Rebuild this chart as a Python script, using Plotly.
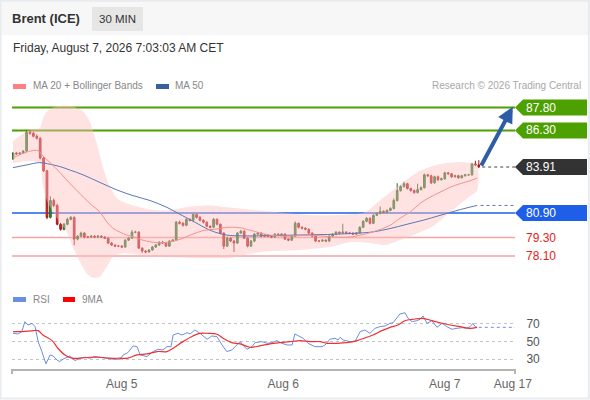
import plotly.graph_objects as go

W, H = 590, 400
FONT = "Liberation Sans, Arial, sans-serif"

# candles (30 min bars), open = previous close
first_open = 84.44
closes = [84.82, 84.76, 84.82, 84.95, 86.18, 86.12, 85.92, 85.79, 84.50, 83.66,
          80.62, 81.72, 81.40, 80.17, 79.84, 80.17, 80.49, 80.62, 79.20, 79.39,
          79.59, 79.33, 79.33, 79.39, 79.33, 79.39, 79.33, 79.26, 78.94, 78.81,
          78.74, 78.74, 78.68, 79.13, 79.26, 79.65, 79.65, 78.61, 78.42, 78.36,
          78.49, 78.68, 78.81, 79.00, 78.94, 78.74, 79.07, 79.13, 80.30, 80.23,
          80.10, 80.49, 80.43, 80.81, 80.62, 80.43, 80.30, 80.04, 79.97, 80.49,
          80.17, 79.59, 78.74, 79.26, 79.07, 78.94, 79.59, 79.71, 79.26, 78.74,
          79.07, 79.52, 79.59, 79.39, 79.46, 79.39, 79.33, 79.52, 79.46, 79.52,
          79.20, 79.13, 79.39, 80.23, 79.97, 79.91, 79.84, 79.59, 79.39, 79.07,
          79.07, 79.13, 79.07, 79.39, 79.52, 79.65, 79.59, 79.65, 79.59, 79.59,
          79.52, 79.59, 79.97, 80.36, 80.56, 80.23, 80.75, 80.88, 81.01, 80.94,
          81.07, 81.20, 81.72, 82.37, 82.63, 82.82, 82.50, 82.37, 82.24, 82.43,
          82.56, 83.40, 83.34, 82.88, 83.27, 83.08, 83.14, 83.53, 83.47, 83.27,
          83.34, 83.21, 83.34, 83.40, 83.40, 84.11, 84.05, 83.91]
highs = [84.88, 84.90, 84.88, 85.02, 86.30, 86.35, 86.20, 86.05, 85.85, 84.58,
         83.72, 82.00, 81.85, 81.50, 80.25, 80.25, 80.60, 80.70, 80.68, 79.45,
         79.68, 79.65, 79.40, 79.46, 79.45, 79.46, 79.44, 79.38, 79.32, 79.00,
         78.86, 78.80, 78.80, 79.20, 79.32, 79.78, 79.74, 79.72, 78.66, 78.48,
         78.55, 78.74, 78.88, 79.06, 79.08, 79.00, 79.14, 79.20, 80.38, 80.40,
         80.30, 80.56, 80.55, 80.88, 80.86, 80.70, 80.50, 80.36, 80.10, 80.58,
         80.55, 80.22, 79.64, 79.35, 79.32, 79.15, 79.66, 79.80, 79.78, 79.32,
         79.14, 79.60, 79.66, 79.64, 79.52, 79.52, 79.44, 79.58, 79.58, 79.58,
         79.58, 79.26, 79.45, 80.36, 80.28, 80.04, 79.98, 79.90, 79.64, 79.44,
         79.14, 79.20, 79.18, 79.46, 79.58, 79.72, 79.70, 80.20, 79.72, 79.66,
         79.64, 79.66, 80.04, 80.44, 80.64, 80.62, 80.82, 80.95, 81.33, 81.08,
         81.14, 81.28, 81.86, 82.85, 82.72, 82.95, 82.88, 82.56, 82.44, 82.82,
         82.64, 83.48, 83.46, 83.40, 83.34, 83.35, 83.22, 83.60, 83.58, 83.52,
         83.40, 83.40, 83.40, 83.46, 83.46, 84.18, 84.32, 84.36]
lows = [84.38, 84.70, 84.70, 84.78, 84.90, 86.02, 85.85, 85.70, 84.42, 83.58,
        80.50, 80.55, 81.30, 80.10, 79.75, 79.78, 80.10, 80.42, 78.80, 79.12,
        79.32, 79.25, 79.26, 79.28, 79.26, 79.27, 79.27, 79.20, 78.88, 78.75,
        78.68, 78.68, 78.62, 78.64, 79.08, 79.22, 79.58, 78.55, 78.30, 78.28,
        78.32, 78.44, 78.62, 78.76, 78.88, 78.68, 78.70, 79.02, 79.08, 80.16,
        80.02, 80.04, 80.36, 80.38, 80.55, 80.36, 80.22, 79.98, 79.90, 79.92,
        80.10, 79.52, 78.55, 78.68, 79.00, 78.36, 78.88, 79.54, 79.20, 78.66,
        78.68, 79.00, 79.46, 79.32, 79.34, 79.32, 79.26, 79.28, 79.40, 79.40,
        79.14, 79.06, 79.08, 79.34, 79.90, 79.84, 79.78, 79.52, 79.32, 79.00,
        79.00, 79.02, 79.00, 79.02, 79.34, 79.46, 79.52, 79.54, 79.52, 79.52,
        79.46, 79.46, 79.54, 79.92, 80.30, 80.16, 80.18, 80.70, 80.82, 80.88,
        80.88, 81.02, 81.14, 81.66, 82.30, 82.56, 82.44, 82.30, 82.16, 82.18,
        82.38, 82.50, 83.26, 82.80, 82.82, 83.00, 83.02, 83.08, 83.40, 83.20,
        83.22, 83.14, 83.16, 83.28, 83.34, 83.34, 83.98, 83.86]
opens = [first_open] + closes[:-1]
bars = list(range(len(closes)))

# indicators (bar index, value)
ma20_x = [0, 7.1, 8.8, 10.9, 13.8, 16.8, 19.7, 22.6, 25.6, 27.6, 29.4, 31.5, 33.5, 35.3,
          37.4, 40.3, 43.2, 46.2, 49.1, 52.1, 56.5, 59.4, 63.2, 66.8, 69.7, 75.6, 81.5,
          87.4, 93.2, 99.1, 102.1, 105.9, 110.9, 113.8, 116.8, 119.7, 122.6, 125.6,
          128.5, 131.5, 134.4, 136.5]
ma20_y = [84.52, 85.00, 84.63, 84.20, 83.55, 82.82, 82.17, 81.53, 80.96, 80.32, 79.91,
          79.65, 79.46, 79.35, 79.18, 79.02, 78.96, 79.02, 79.18, 79.46, 79.78, 79.84,
          79.97, 79.94, 79.78, 79.46, 79.39, 79.46, 79.35, 79.33, 79.46, 79.67, 80.10,
          80.56, 80.96, 81.53, 81.93, 82.26, 82.58, 82.82, 83.01, 83.19]
ma50_x = [0, 4.1, 7.9, 10.9, 13.8, 16.8, 20.6, 25.6, 30.6, 35.3, 40.3, 45.3, 49.1, 54.1,
          57.9, 62.9, 67.6, 72.6, 82.4, 92.4, 102.1, 105.9, 110.9, 115.9, 120.6, 125.6,
          130.6, 134.4, 136.5]
ma50_y = [83.87, 84.05, 84.20, 84.09, 83.94, 83.71, 83.40, 82.90, 82.41, 82.04, 81.72,
          81.27, 80.82, 80.23, 79.78, 79.46, 79.41, 79.41, 79.46, 79.50, 79.60, 79.67,
          79.89, 80.17, 80.43, 80.75, 81.07, 81.29, 81.40]
bb_up_x = [0, 5, 7.9, 8.8, 10, 11.8, 14.7, 17.6, 20.6, 22.6, 24.7, 26.5, 28.5, 30.6, 33.5,
           40.3, 45.3, 52.1, 57.9, 63.8, 72.6, 81.5, 90.3, 99.1, 103.5, 107.9, 113.8,
           119.7, 125.6, 131.5, 136.5]
bb_up_y = [85.60, 86.38, 86.44, 87.09, 87.54, 87.80, 87.93, 87.86, 87.54, 86.89, 85.41,
           83.85, 82.63, 81.85, 81.53, 81.14, 81.07, 81.33, 81.40, 81.27, 81.07, 80.88,
           80.75, 80.81, 80.94, 81.72, 82.75, 83.66, 84.11, 84.24, 84.05]
bb_lo_x = [0, 5, 7.9, 8.8, 10, 11.8, 13.8, 15.9, 17.6, 19.7, 21.8, 23.5, 25.6, 27.6, 29.4,
           32.4, 37.4, 43.2, 52.1, 63.8, 72.6, 84.4, 93.2, 99.1, 105, 109.4, 113.8, 119.7,
           123.5, 128.5, 133.5, 136.5]
bb_lo_y = [84.18, 84.31, 84.18, 82.69, 81.72, 80.94, 80.30, 79.65, 78.68, 77.71, 76.93,
           76.67, 76.74, 77.39, 78.03, 78.29, 78.17, 78.03, 77.97, 77.97, 78.36, 78.49,
           78.68, 79.00, 78.94, 78.81, 79.13, 79.65, 80.04, 80.94, 81.85, 82.37]

rsi_x = [0, 1.5, 2.6, 3.5, 4.4, 5.6, 6.5, 7.4, 8.5, 9.7, 10.9, 11.8, 12.9, 13.8, 14.7,
         15.9, 16.8, 18.2, 19.7, 21.2, 22.6, 24.1, 25.6, 27.6, 29.4, 31.5, 32.4, 33.8,
         35.3, 36.5, 37.4, 39.4, 41.2, 42.6, 44.1, 45.3, 46.5, 47.1, 48.5, 49.7, 51.2,
         52.1, 53.5, 55.0, 57.1, 58.5, 60.0, 61.5, 62.9, 64.4, 65.9, 66.8, 67.6, 68.8,
         70.3, 71.2, 73.2, 74.7, 76.2, 77.6, 79.1, 80.6, 82.1, 82.9, 84.4, 85.3, 86.8,
         88.8, 90.9, 91.8, 93.2, 94.7, 95.6, 96.2, 97.1, 99.1, 100.6, 102.1, 103.5, 105.0,
         106.5, 107.9, 109.4, 110.9, 111.8, 112.9, 113.8, 115.3, 116.2, 117.4, 118.8,
         119.7, 120.6, 121.8, 123.2, 124.7, 126.2, 127.6, 129.1, 130.6, 132.1, 133.5,
         134.4, 135.3, 135.9, 136.5]
rsi_y = [59.1, 58.4, 61.0, 72.3, 68.5, 70.4, 66.6, 49.7, 38.4, 24.5, 34.6, 33.5, 29.0,
         27.1, 29.8, 32.0, 33.5, 28.2, 30.9, 32.0, 30.9, 32.7, 32.0, 30.9, 29.8, 29.8,
         34.6, 37.2, 44.8, 44.0, 34.6, 32.7, 38.4, 41.0, 40.3, 44.0, 44.0, 57.2, 59.1,
         57.2, 59.8, 58.4, 62.9, 59.1, 52.4, 56.1, 55.3, 45.9, 38.4, 40.3, 45.9, 49.7,
         45.9, 41.0, 44.0, 48.5, 49.7, 47.8, 48.5, 50.8, 47.8, 45.9, 45.9, 58.4, 55.3,
         53.5, 47.8, 44.0, 44.0, 45.9, 52.4, 53.5, 51.6, 54.6, 51.6, 49.7, 49.7, 61.0,
         62.9, 59.1, 64.8, 66.6, 67.4, 70.4, 71.1, 76.1, 81.0, 82.4, 76.1, 72.3, 73.4,
         75.0, 78.7, 70.4, 73.4, 65.9, 70.4, 66.6, 63.7, 64.8, 65.5, 64.8, 66.6, 70.4,
         66.6, 65.9]
ma9_x = [0, 2.9, 5.9, 7.4, 8.8, 11.5, 13.2, 15.3, 17.4, 19.7, 22.6, 25.6, 28.5, 31.5,
         33.8, 36.5, 39.4, 42.4, 45.3, 47.1, 50.0, 52.9, 55.0, 57.4, 60.0, 61.8, 64.4,
         66.8, 69.7, 72.6, 75.6, 78.5, 81.5, 84.4, 87.4, 90.3, 92.4, 95.3, 98.2, 101.2,
         104.1, 105.9, 108.5, 110.9, 113.2, 115.3, 117.6, 120.6, 123.2, 125.6, 128.5,
         131.5, 134.4, 136.5]
ma9_y = [61.0, 61.0, 62.1, 62.1, 57.2, 50.8, 42.2, 34.6, 30.9, 30.9, 32.0, 32.0, 30.9,
         30.9, 30.9, 34.6, 35.8, 38.4, 38.4, 42.2, 49.7, 56.1, 59.1, 59.1, 58.0, 53.5,
         48.5, 47.1, 43.3, 44.8, 47.1, 48.5, 49.7, 50.8, 49.7, 49.7, 47.8, 47.8, 48.5,
         50.8, 54.6, 57.2, 62.1, 65.9, 68.5, 73.4, 75.0, 76.1, 73.4, 71.1, 68.5, 66.6,
         64.8, 65.9]

# key levels
resistances = [87.80, 86.30]
pivot = 80.90
supports = [79.30, 78.10]
tick_pos = [32, 79.5, 127, 147]
tick_text = ["Aug 5", "Aug 6", "Aug 7", "Aug 17"]

GREEN = "#4ca000"
BLUE = "#1f5fe8"
RSI_BLUE = "#6b8fe3"
X_RANGE = [-0.29, 147.65]


def px(v):
    return v / W


def py(v):
    return 1 - v / H


fig = go.Figure()

# bollinger band fill
fig.add_trace(go.Scatter(x=bb_up_x + bb_lo_x[::-1], y=bb_up_y + bb_lo_y[::-1],
                         fill="toself", fillcolor="rgba(255,190,190,0.45)",
                         line=dict(width=0, shape="spline", smoothing=0.6),
                         mode="lines", xaxis="x", yaxis="y"))
fig.add_trace(go.Scatter(x=ma50_x, y=ma50_y, mode="lines",
                         line=dict(color="#5a78b8", width=1, shape="spline"),
                         xaxis="x", yaxis="y"))
fig.add_trace(go.Scatter(x=ma20_x, y=ma20_y, mode="lines",
                         line=dict(color="#f79090", width=1, shape="spline"),
                         xaxis="x", yaxis="y"))
fig.add_trace(go.Candlestick(x=bars, open=opens, high=highs, low=lows, close=closes,
                             increasing=dict(line=dict(color="#236a23", width=1),
                                             fillcolor="#2f8f2f"),
                             decreasing=dict(line=dict(color="#a81818", width=1),
                                             fillcolor="#e32222"),
                             whiskerwidth=0, xaxis="x", yaxis="y"))
# dotted continuation of MA50
fig.add_trace(go.Scatter(x=[ma50_x[-1] + 1, X_RANGE[1]], y=[ma50_y[-1]] * 2, mode="lines",
                         line=dict(color="#5a78b8", width=1, dash="dot"),
                         xaxis="x", yaxis="y"))

# RSI panel
fig.add_trace(go.Scatter(x=rsi_x, y=rsi_y, mode="lines",
                         line=dict(color=RSI_BLUE, width=1), xaxis="x2", yaxis="y2"))
fig.add_trace(go.Scatter(x=ma9_x, y=ma9_y, mode="lines",
                         line=dict(color="#f03030", width=1.2, shape="spline"),
                         xaxis="x2", yaxis="y2"))
fig.add_trace(go.Scatter(x=[rsi_x[-1] + 0.5, X_RANGE[1]], y=[rsi_y[-1]] * 2, mode="lines",
                         line=dict(color=RSI_BLUE, width=1, dash="dot"),
                         xaxis="x2", yaxis="y2"))

shapes = []
ann = []

# header strip and frame
shapes.append(dict(type="rect", xref="paper", yref="paper", x0=0, x1=1, y0=py(35), y1=1,
                   fillcolor="#f7f7f7", line=dict(width=0), layer="below"))
shapes.append(dict(type="rect", xref="paper", yref="paper", x0=px(92), x1=px(143),
                   y0=py(31), y1=py(7), fillcolor="#e6e6e6", line=dict(width=0), layer="below"))
shapes.append(dict(type="rect", xref="paper", yref="paper", x0=0.001, x1=0.998, y0=0.004, y1=0.998,
                   line=dict(color="#e9ecef", width=2)))

# level lines
for lv in resistances:
    shapes.append(dict(type="line", xref="x domain", yref="y", x0=0, x1=1, y0=lv, y1=lv,
                       line=dict(color=GREEN, width=2), layer="below"))
shapes.append(dict(type="line", xref="x domain", yref="y", x0=0, x1=1, y0=pivot, y1=pivot,
                   line=dict(color=BLUE, width=1.5), layer="below"))
for lv in supports:
    shapes.append(dict(type="line", xref="x domain", yref="y", x0=0, x1=1, y0=lv, y1=lv,
                       line=dict(color="#f5a3a3", width=1.5), layer="below"))
shapes.append(dict(type="line", xref="x", yref="y", x0=bars[-1] + 1, x1=X_RANGE[1],
                   y0=closes[-1], y1=closes[-1],
                   line=dict(color="#444444", width=1, dash="dot")))

# label tags on the right
tag_path = "M0,0 L8,8 L72,8 L72,-8 L8,-8 Z"
tags = [(resistances[0], GREEN), (resistances[1], GREEN), (closes[-1], "#333333"), (pivot, BLUE)]
for lv, col in tags:
    shapes.append(dict(type="path", xref="paper", yref="y", xsizemode="pixel", ysizemode="pixel",
                       xanchor=px(515), yanchor=lv, path=tag_path, fillcolor=col,
                       line=dict(width=0)))
    ann.append(dict(x=px(524), y=lv, xref="paper", yref="y", text=f"{lv:.2f}", showarrow=False,
                    xanchor="left", yanchor="middle", font=dict(size=12, color="white")))
for lv in supports:
    ann.append(dict(x=px(524), y=lv, xref="paper", yref="y", text=f"{lv:.2f}", showarrow=False,
                    xanchor="left", yanchor="middle", font=dict(size=12, color="#e52222")))

# projection arrow
ann.append(dict(x=147, y=resistances[0] + 0.05, xref="x", yref="y", ax=bars[-1] + 0.5,
                ay=closes[-1], axref="x", ayref="y", text="", showarrow=True, arrowhead=2,
                arrowsize=0.8, arrowwidth=4, arrowcolor="#2d5da8"))

# RSI axis end ticks
for xd in (0, 1):
    shapes.append(dict(type="line", xref="x2 domain", yref="paper", x0=xd, x1=xd,
                       y0=py(369), y1=py(374), line=dict(color="#b4b4b4", width=2)))

# legends
shapes.append(dict(type="rect", xref="paper", yref="paper", x0=px(13), x1=px(26), y0=py(89), y1=py(84),
                   fillcolor="#ff8080", line=dict(width=0)))
shapes.append(dict(type="rect", xref="paper", yref="paper", x0=px(156), x1=px(169), y0=py(89), y1=py(84),
                   fillcolor="#3a5fa0", line=dict(width=0)))
shapes.append(dict(type="rect", xref="paper", yref="paper", x0=px(13), x1=px(26), y0=py(302), y1=py(297),
                   fillcolor=RSI_BLUE, line=dict(width=0)))
shapes.append(dict(type="rect", xref="paper", yref="paper", x0=px(63), x1=px(75), y0=py(302), y1=py(297),
                   fillcolor="#ff0000", line=dict(width=0)))


def text(x, y, s, size=10, color="#888888", anchor="left", bold=False):
    if bold:
        s = f"<b>{s}</b>"
    ann.append(dict(x=px(x), y=py(y), xref="paper", yref="paper", text=s, showarrow=False,
                    xanchor=anchor, yanchor="middle", font=dict(size=size, color=color)))


text(10, 19, "Brent (ICE)", size=13, color="#333333", bold=True)
text(117.5, 19, "30 MIN", size=11.5, color="#333333", anchor="center")
text(11, 48, "Friday, August 7, 2026 7:03:03 AM CET", size=12, color="#333333")
text(31, 86, "MA 20 + Bollinger Bands")
text(173, 86, "MA 50")
text(583, 86, "Research © 2026 Trading Central", color="#a8a8a8", anchor="right")
text(31, 299, "RSI")
text(80, 299, "9MA")

fig.update_layout(
    width=W, height=H, autosize=False,
    margin=dict(l=0, r=0, t=0, b=0, pad=0, autoexpand=False),
    paper_bgcolor="white", plot_bgcolor="rgba(0,0,0,0)",
    font=dict(family=FONT),
    showlegend=False, hovermode=False,
    shapes=shapes, annotations=ann,
    xaxis=dict(domain=[px(12), px(515)], range=X_RANGE, anchor="y", visible=False,
               rangeslider=dict(visible=False), automargin=False),
    yaxis=dict(domain=[py(285), py(95)], range=[76.199, 88.617], anchor="x", visible=False,
               automargin=False),
    xaxis2=dict(domain=[px(12), px(515)], range=X_RANGE, anchor="y2", showgrid=False,
                zeroline=False, showline=True, linecolor="#b4b4b4", linewidth=2,
                tickvals=tick_pos, ticktext=tick_text, ticks="outside", ticklen=3,
                tickcolor="rgba(0,0,0,0)", tickfont=dict(size=12, color="#666666"),
                automargin=False),
    yaxis2=dict(domain=[py(369), py(305)], range=[18.67, 91.19], anchor="x2", side="right",
                tickvals=[30, 50, 70], showgrid=True, gridcolor="#c4c4c4", griddash="dot",
                gridwidth=1, zeroline=False, showline=False, ticks="outside", ticklen=8,
                tickcolor="rgba(0,0,0,0)", tickfont=dict(size=12, color="#555555"),
                automargin=False),
)

fig.write_html("out.html", config={"displayModeBar": False, "responsive": False},
               post_script="document.body.style.margin='0';")
